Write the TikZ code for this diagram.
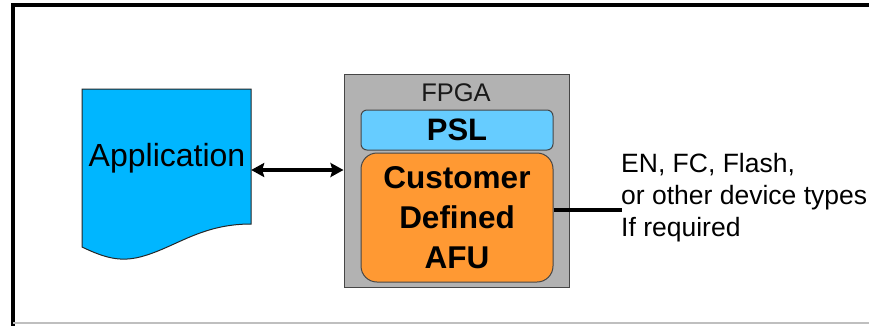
\documentclass[tikz,border=0pt]{standalone}
\usepackage{fontspec}
\setmainfont{Liberation Sans}
\usetikzlibrary{arrows.meta}
\definecolor{appblue}{RGB}{0,182,255}
\definecolor{pslblue}{RGB}{102,204,255}
\definecolor{afuorange}{RGB}{255,153,51}
\definecolor{fpgagray}{RGB}{178,178,178}
\definecolor{edgegray}{RGB}{70,70,70}
\tikzset{
  box/.style={draw=edgegray, line width=1pt},
  conn/.style={line width=4pt, black, >={Stealth[length=13pt,width=14pt,inset=2pt]}}
}
\begin{document}
\begin{tikzpicture}[x=1pt,y=-1pt]
\useasboundingbox (0,0) rectangle (869,325);
% frame
\draw[line width=3.5pt] (13,326) -- (13,5) -- (870,5);
\draw[line width=1.2pt, black!25] (13,323) -- (869,323);
% application document shape
\draw[box, draw=black!85, fill=appblue]
  (82,89) -- (251,89) -- (251,224)
  .. controls (200,224) and (175,248) .. (140,257)
  .. controls (120,262) and (105,258) .. (82,247) -- cycle;
\node[inner sep=0, minimum width=169pt, minimum height=162pt] (app) at (166.5,170) {};
\node[font=\fontsize{32}{36}\selectfont] (apptext) at (167,158) {Application};
% FPGA
\node[box, fill=fpgagray, minimum width=225pt, minimum height=213pt, inner sep=0] (fpga) at (456.5,180.5) {};
\node[font=\fontsize{25.5}{30}\selectfont, text=black!90] (fpgatext) at (456,93) {FPGA};
\node[box, fill=pslblue, rounded corners=6pt, minimum width=192pt, minimum height=40pt, inner sep=0,
      font=\bfseries\fontsize{31}{36}\selectfont] (psl) at (457,130) {PSL};
\node[box, fill=afuorange, rounded corners=16pt, minimum width=192pt, minimum height=129pt, inner sep=0,
      align=center, font=\bfseries\fontsize{31.5}{40}\selectfont] (afu) at (457,217.5) {Customer\\Defined\\AFU};
% connectors
\draw[conn, <->] (app.east) -- (app.east -| fpga.west);
\coordinate (ext) at (622,210);
\draw[line width=4.5pt] ([yshift=7.5pt]afu.east) -- (ext);
\node[anchor=west, align=left, inner sep=0, font=\fontsize{26.5}{32}\selectfont] (exttext) at (621,198)
  {EN, FC, Flash,\\or other device types\\If required};
\end{tikzpicture}
\end{document}
